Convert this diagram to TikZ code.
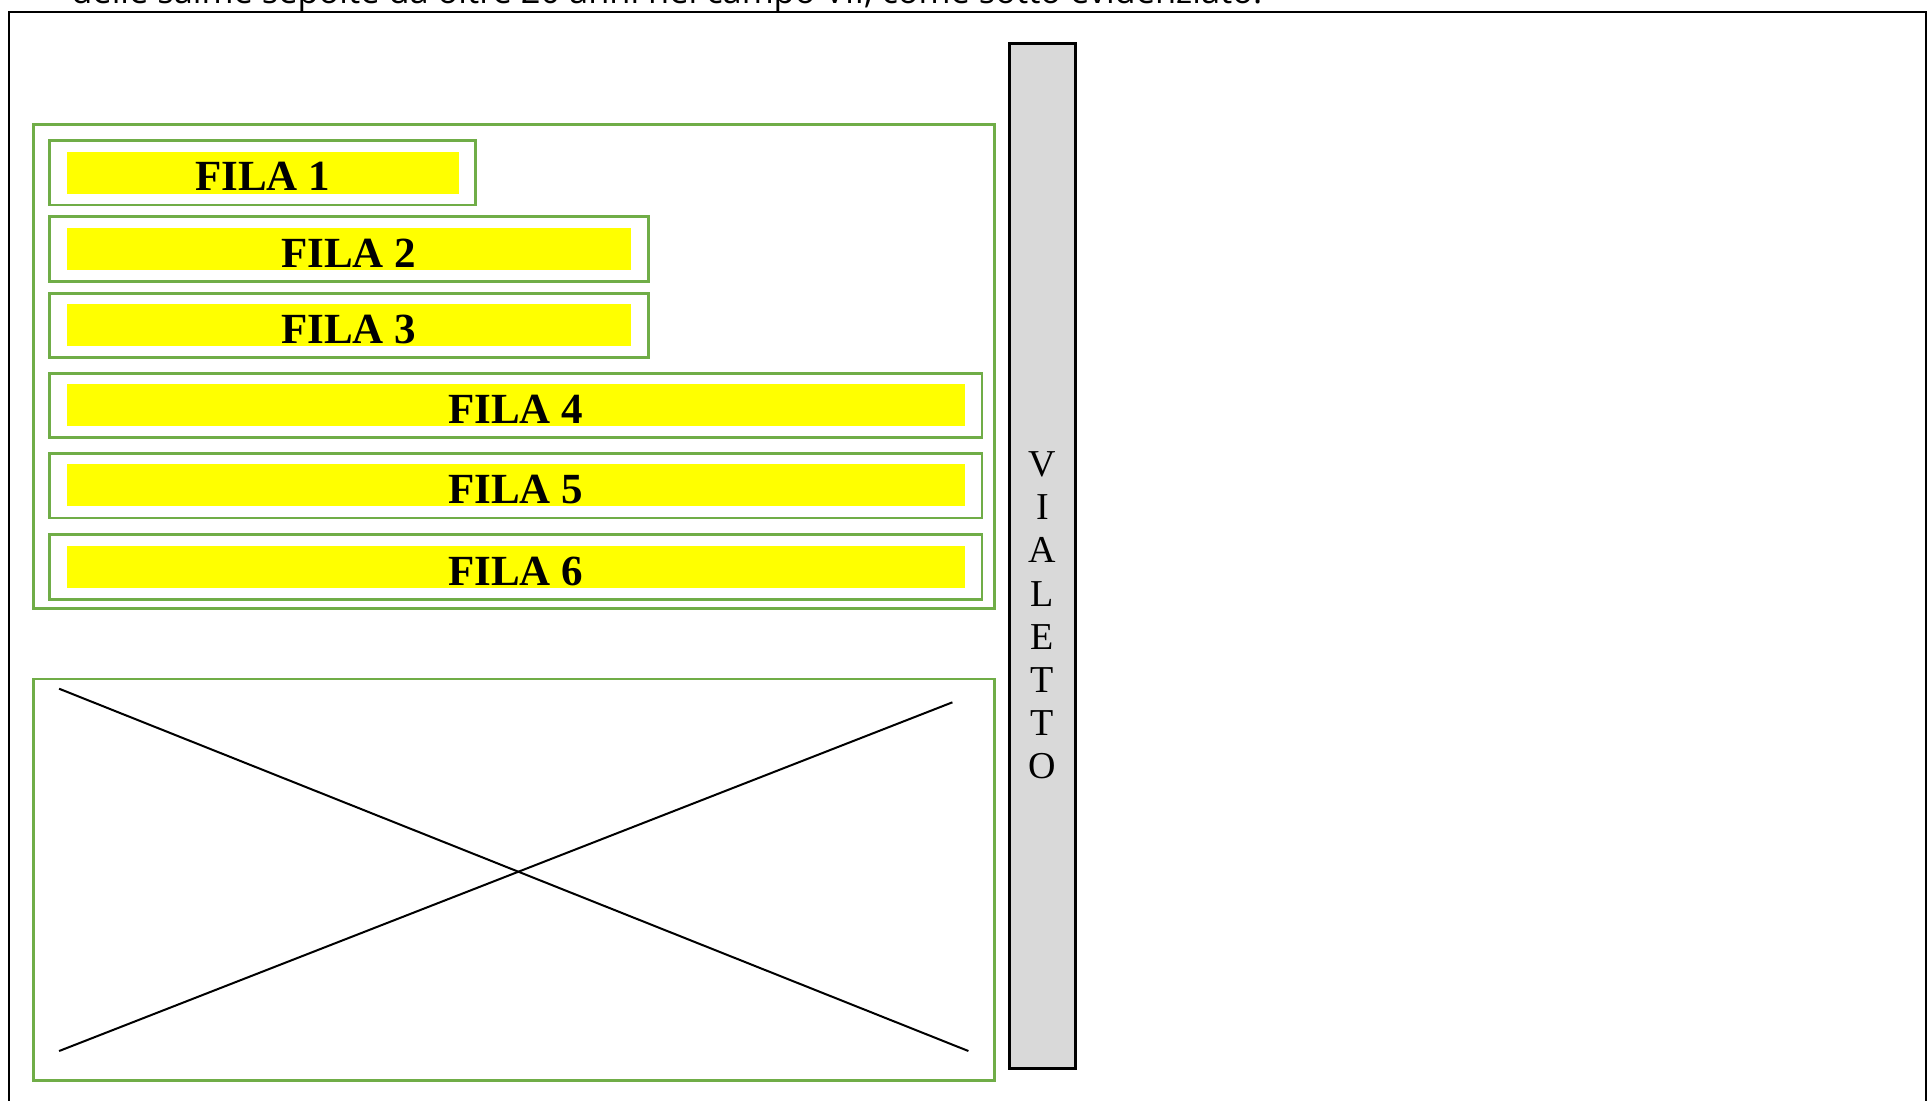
\documentclass[tikz,border=0pt]{standalone}
\usepackage{fontspec}
\setmainfont{Liberation Serif}
\newfontfamily\notefont{Open Sans}
\usepackage{tikz}
\usetikzlibrary{fit}
\definecolor{campogreen}{HTML}{70AD47}
\definecolor{viagray}{HTML}{D9D9D9}
\definecolor{filayellow}{HTML}{FFFF00}

\begin{document}
\begin{tikzpicture}[x=0.5pt,y=-0.5pt,
  groupbox/.style={draw=campogreen, line width=1.4pt, inner sep=0pt},
  filabox/.style={draw=campogreen, line width=1.4pt, inner sep=0pt},
  filabar/.style={fill=filayellow, inner sep=0pt},
  filatext/.style={font=\fontsize{21.5}{21.5}\selectfont\bfseries, inner sep=0pt, anchor=base},
  viabox/.style={draw=black, fill=viagray, line width=1.5pt, inner sep=0pt},
  vialetter/.style={font=\fontsize{19}{19}\selectfont, inner sep=0pt, anchor=base}]
\useasboundingbox (0,0) rectangle (1932,1100);
\clip (0,0) rectangle (1932,1100);

% page frame and the cut line of text above it
\node[font=\notefont\fontsize{17.2}{17.2}\selectfont, inner sep=0pt, anchor=base west] (nota) at (71,3)
  {delle salme sepolte da oltre 20 anni nel campo VII, come sotto evidenziato.};
\draw[line width=1pt] (8.6,1120) -- (8.6,12.3) -- (1925.8,12.3) -- (1925.8,1120);

% rows
\node[groupbox, fit={(33.3,124.4) (994.3,608.7)}] (campo) {};
\foreach \n/\ya/\xb in {1/140.5/475.6, 2/216.8/648.1, 3/293.2/648.1,
                        4/373.3/982.0, 5/453.4/982.0, 6/534.7/982.0} {
  \node[filabox, fit={(49.3,\ya) (\xb,\ya+64.5)}] (fila\n) {};
  \node[filabar, fit={(66.5,\ya+11) (\xb-17,\ya+53)}] (bar\n) {};
  \node[filatext] at ([yshift=1.5pt]bar\n.south) {FILA \n};
}

% empty area
\node[groupbox, fit={(33.3,678.9) (994.3,1080.6)}] (area) {};
\coordinate (c1) at (59.1,688.7);
\coordinate (c2) at (968.4,1051.0);
\coordinate (c3) at (59.1,1051.0);
\coordinate (c4) at (952.4,702.3);
\draw[line width=1pt] (c1) -- (c2);
\draw[line width=1pt] (c3) -- (c4);

% path
\node[viabox, fit={(1009.1,43.1) (1075.6,1068.2)}] (vialetto) {};
\foreach \l [count=\i] in {V,I,A,L,E,T,T,O}
  \node[vialetter] (via\i) at (1042.4,433.6+43.1*\i) {\l};
\end{tikzpicture}
\end{document}
